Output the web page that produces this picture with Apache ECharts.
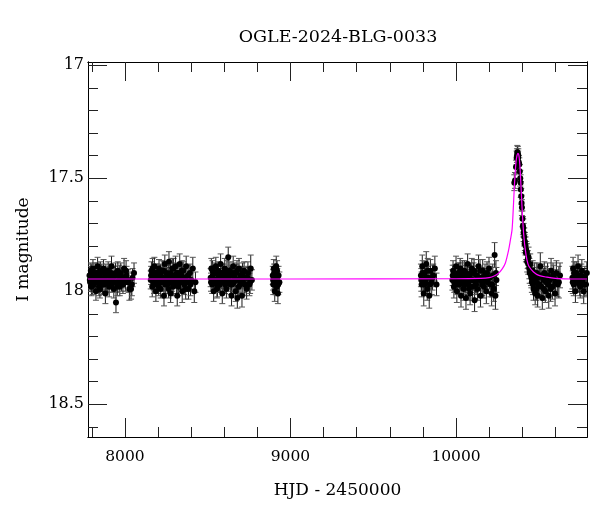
<!DOCTYPE html>
<html>
<head>
<meta charset="utf-8">
<script src="https://cdn.jsdelivr.net/npm/echarts@6/dist/echarts.min.js"></script>
<style>html,body{margin:0;padding:0;background:#fff}#c{width:600px;height:512px}</style>
</head>
<body>
<div id="c"></div>
<script>
// ---- data: [HJD-2450000, I mag, error] ----
const season1 = [[7786,17.93,0.04],[7788,17.95,0.04],[7790,17.96,0.04],[7794,17.91,0.035],[7797,17.92,0.04],[7798,17.98,0.04],[7802,17.94,0.045],[7805,17.97,0.045],[7807,17.90,0.04],[7811,17.97,0.035],[7814,17.93,0.04],[7816,17.95,0.04],[7820,17.92,0.045],[7823,17.96,0.04],[7825,18.00,0.04],[7829,17.94,0.035],[7833,17.92,0.045],[7835,17.89,0.04],[7840,17.96,0.045],[7843,17.98,0.04],[7845,17.93,0.04],[7849,17.99,0.04],[7852,17.91,0.04],[7854,17.95,0.035],[7860,17.92,0.04],[7863,17.95,0.045],[7865,17.97,0.045],[7871,17.90,0.04],[7874,17.97,0.04],[7876,17.94,0.04],[7882,18.01,0.045],[7885,17.92,0.04],[7888,17.96,0.04],[7893,17.93,0.035],[7896,17.96,0.045],[7899,17.91,0.04],[7905,17.98,0.045],[7908,17.93,0.04],[7910,17.95,0.04],[7916,17.92,0.04],[7919,17.89,0.045],[7922,17.97,0.035],[7928,17.94,0.045],[7931,17.96,0.04],[7933,17.99,0.04],[7939,17.93,0.04],[7943,17.92,0.045],[7946,18.05,0.045],[7951,17.96,0.04],[7954,17.98,0.04],[7957,17.91,0.04],[7963,17.95,0.035],[7966,17.93,0.045],[7969,17.98,0.04],[7975,17.92,0.045],[7979,17.96,0.04],[7982,17.94,0.04],[7988,17.97,0.04],[7991,17.94,0.045],[7995,17.90,0.045],[8003,17.96,0.04],[8007,17.91,0.045],[8010,17.93,0.04],[8018,17.95,0.045],[8022,17.96,0.045],[8027,17.99,0.05],[8037,17.99,0.045],[8042,17.97,0.05],[8046,17.94,0.04],[8055,17.92,0.045]];
const season2 = [[8156,17.95,0.04],[8158,17.93,0.04],[8160,17.91,0.04],[8165,17.98,0.045],[8167,17.90,0.045],[8169,17.93,0.04],[8174,17.96,0.035],[8176,17.97,0.04],[8178,17.89,0.04],[8183,17.94,0.04],[8185,17.92,0.04],[8187,18.00,0.045],[8192,17.92,0.04],[8194,17.95,0.045],[8197,17.97,0.04],[8201,17.95,0.035],[8204,17.98,0.04],[8206,17.90,0.04],[8211,17.93,0.045],[8214,17.92,0.04],[8216,17.99,0.04],[8221,17.96,0.04],[8224,17.95,0.045],[8226,17.91,0.045],[8231,17.94,0.04],[8234,17.91,0.04],[8236,18.02,0.045],[8241,17.88,0.04],[8244,17.97,0.04],[8246,17.95,0.04],[8251,17.92,0.035],[8254,17.94,0.045],[8256,17.97,0.04],[8261,17.93,0.045],[8264,17.99,0.04],[8266,17.87,0.045],[8271,17.96,0.04],[8274,17.92,0.045],[8276,18.01,0.04],[8281,17.94,0.04],[8284,17.96,0.04],[8286,17.90,0.045],[8291,17.98,0.04],[8294,17.90,0.045],[8296,17.93,0.04],[8301,17.95,0.035],[8304,17.94,0.04],[8306,17.89,0.045],[8311,17.97,0.04],[8314,17.92,0.045],[8316,18.02,0.045],[8321,17.92,0.04],[8324,17.98,0.04],[8326,17.95,0.04],[8331,17.88,0.045],[8334,17.94,0.045],[8336,17.96,0.04],[8341,17.93,0.04],[8344,17.91,0.045],[8346,18.00,0.05],[8352,17.91,0.04],[8355,17.95,0.045],[8358,17.97,0.045],[8364,17.94,0.04],[8367,17.99,0.045],[8370,17.89,0.045],[8377,17.96,0.04],[8381,17.93,0.045],[8384,17.99,0.045],[8392,17.92,0.04],[8396,17.97,0.05],[8400,17.95,0.045],[8410,17.90,0.05],[8419,18.00,0.05],[8426,17.96,0.045]];
const season3 = [[8518,17.94,0.04],[8520,17.96,0.04],[8522,17.90,0.045],[8527,17.97,0.04],[8529,17.91,0.045],[8531,17.93,0.04],[8536,18.00,0.045],[8538,17.95,0.04],[8540,17.92,0.04],[8545,17.96,0.035],[8547,17.92,0.045],[8549,17.89,0.04],[8554,17.95,0.04],[8556,17.99,0.04],[8559,17.98,0.045],[8563,17.91,0.04],[8566,17.93,0.04],[8568,17.94,0.04],[8573,17.97,0.035],[8576,17.96,0.045],[8578,17.88,0.045],[8583,17.95,0.04],[8586,17.92,0.04],[8588,18.01,0.045],[8593,17.92,0.04],[8596,17.94,0.045],[8598,17.96,0.04],[8603,17.90,0.045],[8606,17.97,0.04],[8608,17.94,0.04],[8613,17.99,0.04],[8616,17.91,0.045],[8618,17.93,0.035],[8624,17.85,0.045],[8626,17.96,0.04],[8629,17.95,0.04],[8634,17.91,0.04],[8637,17.93,0.045],[8639,17.97,0.045],[8644,18.02,0.045],[8647,17.97,0.04],[8649,17.93,0.04],[8654,17.89,0.045],[8657,17.92,0.045],[8659,17.96,0.04],[8664,17.94,0.04],[8667,17.95,0.04],[8669,18.00,0.045],[8674,17.92,0.04],[8677,17.91,0.045],[8679,18.03,0.045],[8684,17.95,0.04],[8687,17.98,0.045],[8689,17.90,0.045],[8695,17.97,0.04],[8698,17.94,0.045],[8701,17.93,0.04],[8707,18.02,0.05],[8710,17.92,0.045],[8713,17.96,0.045],[8720,17.91,0.04],[8724,17.97,0.05],[8727,17.94,0.045],[8735,17.99,0.045],[8739,17.94,0.05],[8743,17.92,0.05],[8752,17.97,0.05],[8756,17.96,0.05],[8760,17.90,0.06],[8767,17.95,0.045]];
const season4 = [[8893,17.93,0.04],[8895,17.95,0.045],[8896,17.97,0.045],[8899,17.90,0.04],[8901,17.92,0.04],[8902,17.95,0.04],[8905,18.00,0.045],[8907,17.97,0.045],[8908,17.92,0.04],[8911,17.96,0.045],[8913,17.94,0.04],[8914,17.89,0.045],[8917,17.98,0.04],[8919,17.91,0.045],[8920,17.94,0.04],[8924,18.01,0.045],[8926,17.97,0.045],[8928,17.93,0.04],[8933,17.96,0.045]];
const season5 = [[9788,17.93,0.05],[9790,17.95,0.05],[9792,17.97,0.055],[9796,17.89,0.05],[9798,17.92,0.055],[9800,17.95,0.05],[9805,18.01,0.055],[9808,17.97,0.05],[9810,17.92,0.05],[9815,17.96,0.05],[9818,17.94,0.05],[9820,17.88,0.055],[9826,17.99,0.05],[9829,17.91,0.055],[9832,17.94,0.05],[9838,18.02,0.055],[9842,17.97,0.05],[9845,17.91,0.05],[9853,17.96,0.055],[9858,17.94,0.055],[9862,17.93,0.05],[9872,17.90,0.055],[9882,17.97,0.05]];
const season6 = [[9978,17.95,0.045],[9980,17.93,0.045],[9982,17.91,0.045],[9987,17.98,0.05],[9989,17.96,0.045],[9991,17.93,0.045],[9996,17.96,0.04],[9998,17.93,0.045],[10000,17.89,0.045],[10005,18.00,0.05],[10008,17.97,0.045],[10010,17.94,0.045],[10015,17.92,0.045],[10018,17.92,0.045],[10020,17.97,0.04],[10025,17.90,0.045],[10028,17.95,0.045],[10030,18.02,0.05],[10035,17.95,0.045],[10038,17.91,0.045],[10040,17.93,0.045],[10045,17.99,0.05],[10048,17.97,0.045],[10050,17.91,0.045],[10055,17.96,0.045],[10058,17.92,0.045],[10060,18.03,0.05],[10065,17.94,0.045],[10068,17.95,0.045],[10070,17.88,0.045],[10075,17.97,0.05],[10078,17.99,0.05],[10080,17.93,0.045],[10085,18.01,0.05],[10088,17.92,0.045],[10090,17.95,0.045],[10095,17.90,0.045],[10098,17.95,0.045],[10100,17.98,0.05],[10106,17.92,0.045],[10109,17.91,0.05],[10112,18.04,0.05],[10118,17.96,0.045],[10121,17.97,0.045],[10124,17.93,0.045],[10130,17.99,0.05],[10133,17.94,0.05],[10136,17.89,0.05],[10142,17.95,0.045],[10145,17.91,0.05],[10148,18.02,0.05],[10154,17.94,0.045],[10158,17.97,0.05],[10161,17.91,0.05],[10168,17.98,0.05],[10171,17.95,0.05],[10175,17.93,0.05],[10183,18.00,0.055],[10187,17.92,0.05],[10191,17.96,0.05],[10199,17.90,0.05],[10203,17.94,0.05],[10207,17.97,0.055],[10215,18.01,0.055],[10218,17.97,0.055],[10222,17.93,0.05],[10228,17.99,0.055],[10233,17.84,0.055],[10238,18.02,0.06],[10241,17.92,0.055],[10244,17.95,0.055]];
const season7 = [[10352,17.52,0.035],[10356,17.51,0.035],[10362,17.45,0.03],[10366,17.41,0.03],[10368,17.40,0.03],[10370,17.385,0.03],[10373,17.39,0.03],[10375,17.41,0.03],[10376,17.40,0.03],[10379,17.43,0.03],[10382,17.44,0.03],[10385,17.47,0.03],[10388,17.50,0.035],[10390,17.52,0.035],[10391,17.55,0.035],[10394,17.58,0.035],[10396,17.61,0.035],[10398,17.63,0.035],[10401,17.68,0.035],[10404,17.71,0.04],[10406,17.72,0.04],[10408,17.74,0.04],[10412,17.76,0.04],[10414,17.79,0.04],[10416,17.78,0.04],[10420,17.80,0.04],[10422,17.83,0.04],[10424,17.82,0.04],[10428,17.83,0.04],[10430,17.87,0.045],[10433,17.86,0.04],[10436,17.88,0.045],[10438,17.85,0.045],[10443,17.90,0.045],[10445,17.92,0.045],[10448,17.88,0.045],[10453,17.93,0.045],[10455,17.94,0.045],[10458,17.96,0.045],[10463,17.91,0.045],[10465,17.97,0.045],[10468,17.99,0.05],[10473,17.94,0.045],[10475,17.92,0.045],[10478,18.01,0.05],[10483,17.96,0.045],[10485,17.99,0.05],[10488,17.92,0.045],[10493,18.02,0.05],[10495,17.94,0.045],[10498,17.97,0.045],[10503,17.93,0.05],[10506,17.97,0.05],[10509,17.89,0.06],[10515,17.98,0.05],[10518,17.93,0.05],[10521,18.03,0.05],[10527,17.95,0.05],[10530,17.99,0.05],[10533,17.92,0.05],[10539,18.00,0.05],[10543,17.94,0.05],[10546,17.96,0.05],[10553,17.93,0.055],[10557,17.97,0.055],[10560,18.02,0.055],[10567,17.95,0.05],[10571,17.99,0.055],[10574,17.91,0.055],[10582,17.98,0.055],[10586,17.93,0.055],[10590,17.94,0.055],[10598,18.01,0.055],[10602,17.96,0.055],[10606,17.92,0.055],[10614,17.97,0.055],[10621,17.96,0.07],[10628,17.93,0.055]];
const season8 = [[10703,17.94,0.05],[10705,17.96,0.05],[10707,17.90,0.05],[10711,17.97,0.05],[10713,17.92,0.05],[10716,17.93,0.045],[10721,18.00,0.05],[10723,17.95,0.05],[10726,17.92,0.05],[10731,17.96,0.045],[10734,17.93,0.05],[10737,17.89,0.05],[10743,17.95,0.05],[10747,17.97,0.05],[10750,17.98,0.05],[10757,17.93,0.05],[10760,17.91,0.05],[10764,17.96,0.05],[10771,18.00,0.055],[10775,17.97,0.055],[10778,17.94,0.05],[10785,17.97,0.05],[10790,17.92,0.05]];

// model curve
const modelT = [7777, 9000, 10000, 10150, 10200, 10230, 10257, 10280, 10298, 10318, 10328, 10338, 10344, 10350, 10356, 10362, 10368, 10374, 10380, 10386, 10392, 10398, 10404, 10410, 10418, 10428, 10440, 10468, 10500, 10549, 10600, 10700, 10791];
const modelM = [17.946, 17.946, 17.945, 17.943, 17.94, 17.933, 17.92, 17.9, 17.875, 17.816, 17.775, 17.73, 17.66, 17.57, 17.49, 17.43, 17.40, 17.39, 17.40, 17.45, 17.53, 17.62, 17.70, 17.76, 17.815, 17.86, 17.89, 17.915, 17.93, 17.938, 17.943, 17.946, 17.946];

// ticks
const xMajor = [8000, 9000, 10000];
const xMinor = [7800, 8200, 8400, 8600, 8800, 9200, 9400, 9600, 9800, 10200, 10400, 10600];
const yMajor = [17, 17.5, 18, 18.5];
const yMinor = [17.1, 17.2, 17.3, 17.4, 17.6, 17.7, 17.8, 17.9, 18.1, 18.2, 18.3, 18.4, 18.6];

const XMIN = 7777, XMAX = 10791, YMIN = 16.986, YMAX = 18.645;
const FONT = 'DejaVu Serif';

const points = [].concat(season1, season2, season3, season4, season5, season6, season7, season8);
const model = modelT.map((t, i) => [t, modelM[i]]);

function xAx(pos, vals, len, label) {
  return {
    type: 'value', position: pos, min: XMIN, max: XMAX,
    axisLine: {show: true, onZero: false, lineStyle: {color: '#000', width: 1}},
    axisTick: {show: true, inside: true, length: len, customValues: vals, lineStyle: {color: '#222', width: 1}},
    axisLabel: label ? {show: true, customValues: vals, margin: 12, color: '#000', fontFamily: FONT, fontSize: 15.5,
      formatter: v => String(Math.round(v))} : {show: false},
    splitLine: {show: false},
    name: label ? 'HJD - 2450000' : '', nameLocation: 'middle', nameGap: 45,
    nameTextStyle: {color: '#000', fontFamily: FONT, fontSize: 17}
  };
}
function yAx(pos, vals, len, label) {
  return {
    type: 'value', position: pos, min: YMIN, max: YMAX, inverse: true,
    axisLine: {show: true, onZero: false, lineStyle: {color: '#000', width: 1}},
    axisTick: {show: true, inside: true, length: len, customValues: vals, lineStyle: {color: '#222', width: 1}},
    axisLabel: label ? {show: true, customValues: vals, margin: 4, color: '#000', fontFamily: FONT, fontSize: 16,
      formatter: v => String(Math.round(v * 10) / 10)} : {show: false},
    splitLine: {show: false},
    name: label ? 'I magnitude' : '', nameLocation: 'middle', nameGap: 56, nameRotate: 90,
    nameTextStyle: {color: '#000', fontFamily: FONT, fontSize: 17}
  };
}

const chart = echarts.init(document.getElementById('c'), null, {renderer: 'canvas'});
chart.setOption({
  backgroundColor: '#fff',
  animation: false,
  title: {text: 'OGLE-2024-BLG-0033', left: 333, top: 23, textAlign: 'center',
    textStyle: {color: '#000', fontFamily: FONT, fontSize: 17.5, fontWeight: 'normal'}},
  grid: {left: 88, right: 13, top: 62, bottom: 75, containLabel: false},
  xAxis: [xAx('bottom', xMajor, 19, true), xAx('bottom', xMinor, 10, false),
          xAx('top', xMajor, 19, false), xAx('top', xMinor, 10, false)],
  yAxis: [yAx('left', yMajor, 19, true), yAx('left', yMinor, 10, false),
          yAx('right', yMajor, 19, false), yAx('right', yMinor, 10, false)],
  series: [
    {
      type: 'custom', xAxisIndex: 0, yAxisIndex: 0, clip: true, z: 2,
      data: points, encode: {x: 0, y: 1},
      renderItem: function (params, api) {
        const t = api.value(0), m = api.value(1), e = api.value(2);
        const a = api.coord([t, m - e]), b = api.coord([t, m + e]);
        const w = 3;
        const st = {stroke: '#1a1a1a', lineWidth: 1};
        return {type: 'group', children: [
          {type: 'line', shape: {x1: a[0], y1: a[1], x2: b[0], y2: b[1]}, style: st},
          {type: 'line', shape: {x1: a[0] - w, y1: a[1], x2: a[0] + w, y2: a[1]}, style: {stroke: '#555', lineWidth: 1}},
          {type: 'line', shape: {x1: b[0] - w, y1: b[1], x2: b[0] + w, y2: b[1]}, style: {stroke: '#555', lineWidth: 1}}
        ]};
      }
    },
    {
      type: 'scatter', xAxisIndex: 0, yAxisIndex: 0, clip: true, z: 3,
      data: points.map(p => [p[0], p[1]]), symbol: 'circle', symbolSize: 6,
      itemStyle: {color: '#000', opacity: 1}
    },
    {
      type: 'line', xAxisIndex: 0, yAxisIndex: 0, z: 4, data: model, showSymbol: false,
      smooth: 0.3, lineStyle: {color: '#ff00ff', width: 1.2}
    }
  ]
});
</script>
</body>
</html>
